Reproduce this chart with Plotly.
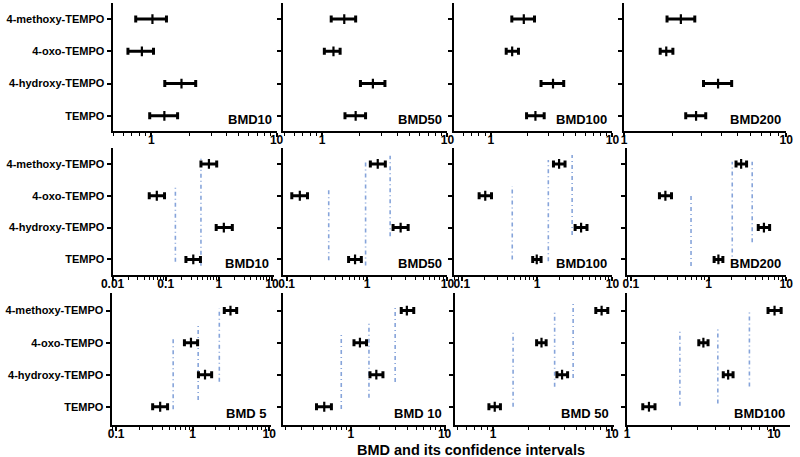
import math
import plotly.graph_objects as go

# ---------------- data ----------------
compounds = ["TEMPO", "4-hydroxy-TEMPO", "4-oxo-TEMPO", "4-methoxy-TEMPO"]

# Row 1
r1_bmd10 = [1.27, 1.74, 0.84, 1.02]
r1_bmd10_lo = [0.97, 1.28, 0.65, 0.75]
r1_bmd10_hi = [1.62, 2.26, 1.04, 1.32]
r1_bmd50 = [1.85, 2.54, 1.23, 1.50]
r1_bmd50_lo = [1.52, 2.02, 1.04, 1.18]
r1_bmd50_hi = [2.22, 3.17, 1.39, 1.85]
r1_bmd100 = [2.33, 3.25, 1.50, 1.87]
r1_bmd100_lo = [1.97, 2.59, 1.34, 1.49]
r1_bmd100_hi = [2.75, 3.98, 1.69, 2.29]
r1_bmd200 = [2.78, 3.80, 1.82, 2.24]
r1_bmd200_lo = [2.40, 3.09, 1.67, 1.84]
r1_bmd200_hi = [3.19, 4.61, 2.00, 2.73]

# Row 2
r2_bmd10 = [0.33, 1.24, 0.068, 0.65]
r2_bmd10_lo = [0.24, 0.89, 0.049, 0.46]
r2_bmd10_hi = [0.45, 1.79, 0.095, 0.91]
r2_bmd10_ref = [0.152, 0.46]
r2_bmd10_ref_y0 = [-0.07, -0.2]
r2_bmd10_ref_y1 = [2.28, 3.23]
r2_bmd50 = [0.71, 2.62, 0.146, 1.36]
r2_bmd50_lo = [0.59, 2.11, 0.116, 1.10]
r2_bmd50_hi = [0.85, 3.25, 0.182, 1.69]
r2_bmd50_ref = [0.334, 0.96, 1.94]
r2_bmd50_ref_y0 = [-0.03, -0.19, 0.73]
r2_bmd50_ref_y1 = [2.27, 3.10, 3.26]
r2_bmd100 = [0.99, 3.84, 0.205, 1.96]
r2_bmd100_lo = [0.875, 3.20, 0.17, 1.65]
r2_bmd100_hi = [1.13, 4.60, 0.248, 2.35]
r2_bmd100_ref = [0.468, 1.41, 2.92]
r2_bmd100_ref_y0 = [0.0, -0.06, 0.77]
r2_bmd100_ref_y1 = [2.30, 3.12, 3.28]
r2_bmd200 = [1.34, 5.17, 0.278, 2.63]
r2_bmd200_lo = [1.18, 4.37, 0.233, 2.26]
r2_bmd200_hi = [1.53, 6.12, 0.333, 3.09]
r2_bmd200_ref = [0.595, 2.02, 3.65]
r2_bmd200_ref_y0 = [-0.21, -0.13, 0.54]
r2_bmd200_ref_y1 = [2.09, 3.07, 3.07]

# Row 3
r3_bmd5 = [0.376, 1.45, 0.95, 3.12]
r3_bmd5_lo = [0.30, 1.19, 0.78, 2.59]
r3_bmd5_hi = [0.47, 1.77, 1.16, 3.76]
r3_bmd5_ref = [0.556, 1.18, 2.23]
r3_bmd5_ref_y0 = [-0.08, 0.21, 0.78]
r3_bmd5_ref_y1 = [2.19, 2.52, 3.07]
r3_bmd10 = [0.52, 1.87, 1.25, 3.96]
r3_bmd10_lo = [0.43, 1.60, 1.08, 3.45]
r3_bmd10_hi = [0.62, 2.20, 1.47, 4.69]
r3_bmd10_ref = [0.79, 1.56, 2.97]
r3_bmd10_ref_y0 = [-0.07, 0.28, 0.77]
r3_bmd10_ref_y1 = [2.27, 2.63, 3.10]
r3_bmd50 = [1.03, 3.80, 2.55, 8.18]
r3_bmd50_lo = [0.92, 3.44, 2.32, 7.31]
r3_bmd50_hi = [1.15, 4.23, 2.79, 9.22]
r3_bmd50_ref = [1.47, 3.29, 4.71]
r3_bmd50_ref_y0 = [0.0, 0.62, 0.90]
r3_bmd50_ref_y1 = [2.32, 2.96, 3.27]
r3_bmd100 = [1.41, 4.88, 3.31, 10.1]
r3_bmd100_lo = [1.28, 4.52, 3.08, 9.12]
r3_bmd100_hi = [1.55, 5.27, 3.56, 11.2]
r3_bmd100_ref = [2.29, 4.15, 6.81]
r3_bmd100_ref_y0 = [0.03, 0.10, 0.63]
r3_bmd100_ref_y1 = [2.37, 2.43, 2.96]

row_labels = [["BMD10", "BMD50", "BMD100", "BMD200"],
              ["BMD10", "BMD50", "BMD100", "BMD200"],
              ["BMD 5", "BMD 10", "BMD 50", "BMD100"]]
x_title = "BMD and its confidence intervals"

# ---------------- layout geometry ----------------
W, H = 800, 457
FONT = "Liberation Sans, Arial, sans-serif"
rows_px = [(3, 131), (148, 275), (293, 425)]
cols_px = [
    [(103, 271), (278, 446), (453, 615), (627, 793)],
    [(103, 268), (278, 446), (453, 615), (630, 793)],
    [(102, 265), (278, 445), (454, 617), (630, 797)],
]
x_ranges = [
    [(-0.31, 1), (-0.31, 1), (-0.30, 1), (0, 1)],
    [(-2, 1.03), (-1.04, 1), (-1.10, 1), (-1.05, 1)],
    [(-1.06, 1.02), (-0.72, 1.02), (-0.32, 1.02), (0, 1.11)],
]
y_ranges = [(-0.47, 3.5), (-0.49, 3.5), (-0.57, 3.55)]

panels = [
    [(r1_bmd10, r1_bmd10_lo, r1_bmd10_hi, None),
     (r1_bmd50, r1_bmd50_lo, r1_bmd50_hi, None),
     (r1_bmd100, r1_bmd100_lo, r1_bmd100_hi, None),
     (r1_bmd200, r1_bmd200_lo, r1_bmd200_hi, None)],
    [(r2_bmd10, r2_bmd10_lo, r2_bmd10_hi, (r2_bmd10_ref, r2_bmd10_ref_y0, r2_bmd10_ref_y1)),
     (r2_bmd50, r2_bmd50_lo, r2_bmd50_hi, (r2_bmd50_ref, r2_bmd50_ref_y0, r2_bmd50_ref_y1)),
     (r2_bmd100, r2_bmd100_lo, r2_bmd100_hi, (r2_bmd100_ref, r2_bmd100_ref_y0, r2_bmd100_ref_y1)),
     (r2_bmd200, r2_bmd200_lo, r2_bmd200_hi, (r2_bmd200_ref, r2_bmd200_ref_y0, r2_bmd200_ref_y1))],
    [(r3_bmd5, r3_bmd5_lo, r3_bmd5_hi, (r3_bmd5_ref, r3_bmd5_ref_y0, r3_bmd5_ref_y1)),
     (r3_bmd10, r3_bmd10_lo, r3_bmd10_hi, (r3_bmd10_ref, r3_bmd10_ref_y0, r3_bmd10_ref_y1)),
     (r3_bmd50, r3_bmd50_lo, r3_bmd50_hi, (r3_bmd50_ref, r3_bmd50_ref_y0, r3_bmd50_ref_y1)),
     (r3_bmd100, r3_bmd100_lo, r3_bmd100_hi, (r3_bmd100_ref, r3_bmd100_ref_y0, r3_bmd100_ref_y1))],
]


def fmt(v):
    if v >= 1:
        return str(int(round(v)))
    return ("%g" % v)


fig = go.Figure()
layout = {}
annotations = []
ypos = list(range(len(compounds)))

n = 0
for r in range(3):
    for c in range(4):
        n += 1
        xa = "x" if n == 1 else "x%d" % n
        ya = "y" if n == 1 else "y%d" % n
        xkey = "xaxis" if n == 1 else "xaxis%d" % n
        ykey = "yaxis" if n == 1 else "yaxis%d" % n
        cen, lo, hi, ref = panels[r][c]

        # reference (dash-dot) lines
        if ref is not None:
            rx, ry0, ry1 = ref
            for xv, a, b in zip(rx, ry0, ry1):
                fig.add_trace(go.Scatter(
                    x=[xv, xv], y=[a, b], mode="lines", xaxis=xa, yaxis=ya,
                    line=dict(color="#86a4da", width=1.6, dash="4px,3px,1px,3px"),
                    showlegend=False, hoverinfo="skip"))

        fig.add_trace(go.Scatter(
            x=cen, y=ypos, mode="markers", xaxis=xa, yaxis=ya,
            marker=dict(symbol="line-ns", size=7, color="black",
                        line=dict(color="black", width=2.2)),
            error_x=dict(type="data", symmetric=False,
                         array=[h - m for h, m in zip(hi, cen)],
                         arrayminus=[m - l for m, l in zip(cen, lo)],
                         color="black", thickness=3, width=3.5),
            showlegend=False))

        x0, x1 = cols_px[r][c]
        yt, yb = rows_px[r]
        lo_r, hi_r = x_ranges[r][c]
        majors = [10.0 ** k for k in range(math.ceil(lo_r - 1e-9), math.floor(hi_r + 1e-9) + 1)]
        minors = []
        for k in range(math.floor(lo_r) - 1, math.ceil(hi_r) + 1):
            for m in range(2, 10):
                v = m * 10.0 ** k
                if lo_r <= math.log10(v) <= hi_r:
                    minors.append(v)

        layout[xkey] = dict(
            domain=[x0 / W, x1 / W], anchor=ya, type="log", range=[lo_r, hi_r],
            showline=True, linecolor="black", linewidth=2, mirror=False,
            showgrid=False, zeroline=False,
            ticks="outside", ticklen=4, tickwidth=1.5, tickcolor="black",
            ticklabelstandoff=-7,
            tickmode="array", tickvals=majors, ticktext=[fmt(v) for v in majors],
            tickfont=dict(family=FONT, size=12, color="black", weight="bold"),
            minor=dict(ticks="outside", ticklen=3, tickwidth=1.2, tickcolor="black",
                       tickmode="array", tickvals=minors, showgrid=False),
        )
        layout[ykey] = dict(
            domain=[1 - yb / H, 1 - yt / H], anchor=xa, range=list(y_ranges[r]),
            showline=True, linecolor="black", linewidth=2,
            showgrid=False, zeroline=False,
            ticks="outside", ticklen=4, tickwidth=1.5, tickcolor="black",
            tickmode="array", tickvals=ypos,
            ticktext=compounds if c == 0 else [""] * len(compounds),
            tickfont=dict(family=FONT, size=11, color="black", weight="bold"),
        )
        annotations.append(dict(
            text=row_labels[r][c], xref="paper", yref="paper",
            x=(x1 - 3) / W, y=1 - (yb - 12) / H, xanchor="right", yanchor="middle",
            showarrow=False, font=dict(family=FONT, size=13, color="black", weight="bold")))

annotations.append(dict(
    text=x_title, xref="paper", yref="paper", x=470 / W, y=1 - 450 / H,
    xanchor="center", yanchor="middle", showarrow=False,
    font=dict(family=FONT, size=14.5, color="black", weight="bold")))

fig.update_layout(
    width=W, height=H, autosize=False,
    margin=dict(l=0, r=0, t=0, b=0, pad=0),
    paper_bgcolor="white", plot_bgcolor="white",
    annotations=annotations, showlegend=False, **layout)

fig.write_html("out.html", config={"displayModeBar": False},
               post_script="document.body.style.margin='0';document.body.style.overflow='hidden';")
